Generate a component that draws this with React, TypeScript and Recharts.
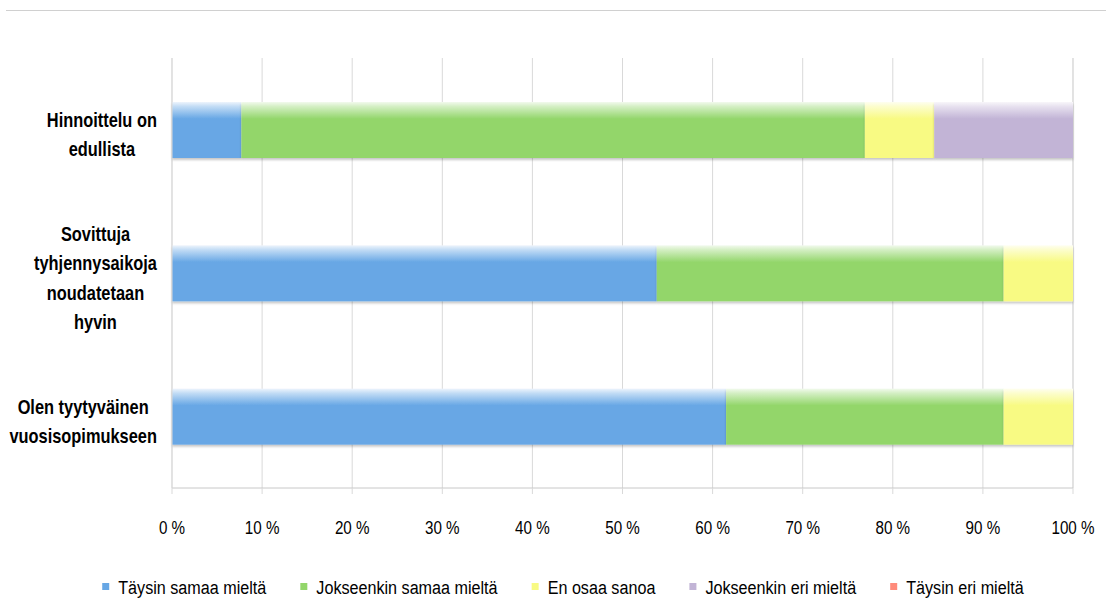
import React from 'react';
import { BarChart, Bar, XAxis, YAxis, CartesianGrid, Legend } from 'recharts';

const categories = [
  'Hinnoittelu on edullista',
  'Sovittuja tyhjennysaikoja noudatetaan hyvin',
  'Olen tyytyväinen vuosisopimukseen',
];
const categoryLines = [
  ['Hinnoittelu on', 'edullista'],
  ['Sovittuja', 'tyhjennysaikoja', 'noudatetaan', 'hyvin'],
  ['Olen tyytyväinen', 'vuosisopimukseen'],
];
const taysinSamaa = [7.7, 53.8, 61.5];
const jokseenkinSamaa = [69.2, 38.5, 30.8];
const enOsaaSanoa = [7.7, 7.7, 7.7];
const jokseenkinEri = [15.4, 0, 0];
const taysinEri = [0, 0, 0];

const seriesNames = [
  'Täysin samaa mieltä',
  'Jokseenkin samaa mieltä',
  'En osaa sanoa',
  'Jokseenkin eri mieltä',
  'Täysin eri mieltä',
];
const seriesKeys = ['s1', 's2', 's3', 's4', 's5'];
const seriesColors = ['#67A7E5', '#93D66B', '#F8FA83', '#C2B4D6', '#FF8B7B'];
const xTicks = [0, 10, 20, 30, 40, 50, 60, 70, 80, 90, 100];

const data = categories.map((name, i) => ({
  name,
  s1: taysinSamaa[i],
  s2: jokseenkinSamaa[i],
  s3: enOsaaSanoa[i],
  s4: jokseenkinEri[i],
  s5: taysinEri[i],
}));

const W = 1106;
const H = 606;

let ctx: CanvasRenderingContext2D | null = null;
function measure(text: string, font: string): number {
  if (!ctx) ctx = document.createElement('canvas').getContext('2d');
  if (!ctx) return text.length * 10;
  ctx.font = font;
  return ctx.measureText(text).width;
}

function mix(hex: string, t: number): string {
  const n = parseInt(hex.slice(1), 16);
  const r = (n >> 16) & 255, g = (n >> 8) & 255, b = n & 255;
  const m = (c: number) => Math.round(255 + (c - 255) * t);
  return `rgb(${m(r)},${m(g)},${m(b)})`;
}

const FONT = "'Liberation Sans', Arial, sans-serif";

const YTick = (props: any) => {
  const { x, y, payload } = props;
  const idx = categories.indexOf(payload.value);
  const lines = categoryLines[idx] || [String(payload.value)];
  const sx = 0.82;
  const font = `bold 20px 'Liberation Sans'`;
  const widths = lines.map((l) => measure(l, font) * sx);
  const bw = Math.max(...widths);
  const cx = x - bw / 2;
  const lh = 29.5;
  const c0 = y + 5 - ((lines.length - 1) * lh) / 2;
  return (
    <g>
      {lines.map((l, i) => (
        <text
          key={i}
          transform={`translate(${cx},${c0 + i * lh + 7}) scale(${sx},1)`}
          textAnchor="middle"
          fontFamily={FONT}
          fontWeight="bold"
          fontSize={20}
          fill="#000"
        >
          {l}
        </text>
      ))}
    </g>
  );
};

const XTick = (props: any) => {
  const { x, y, payload } = props;
  return (
    <text
      transform={`translate(${x},${y + 38}) scale(0.8,1)`}
      textAnchor="middle"
      fontFamily={FONT}
      fontSize={19}
      fill="#000"
    >
      {`${payload.value} %`}
    </text>
  );
};

const LegendContent = () => {
  const fs = 19;
  const sx = 0.85;
  const font = `${fs}px 'Liberation Sans'`;
  const marker = 7;
  const mgap = 9;
  const gap = 34;
  const widths = seriesNames.map((n) => measure(n, font) * sx);
  const itemW = widths.map((w) => marker + mgap + w);
  const total = itemW.reduce((a, b) => a + b, 0) + gap * (seriesNames.length - 1);
  let cur = W / 2 + 10 - total / 2;
  const cy = 39;
  return (
    <svg width={W} height={58} style={{ display: 'block' }}>
      {seriesNames.map((n, i) => {
        const x0 = cur;
        cur += itemW[i] + gap;
        return (
          <g key={n}>
            <rect x={x0} y={cy - 4} width={marker} height={marker} fill={seriesColors[i]} />
            <text
              transform={`translate(${x0 + marker + mgap},${cy + 6.5}) scale(${sx},1)`}
              fontFamily={FONT}
              fontSize={fs}
              fill="#000"
            >
              {n}
            </text>
          </g>
        );
      })}
    </svg>
  );
};

const makeShape = (i: number) => (props: any) => {
  const { x, y, width, height } = props;
  if (!width || width <= 0) return <g />;
  return (
    <rect x={x} y={y} width={width} height={height} fill={`url(#grad${i})`} filter="url(#barShadow)" />
  );
};

export default function App() {
  return (
    <div style={{ position: 'absolute', left: 0, top: 0, width: W, height: H, background: '#fff' }}>
      <div style={{ position: 'absolute', left: 6, right: 0, top: 10, height: 1, background: '#d0d0d0' }} />
      <BarChart
        width={W}
        height={H}
        data={data}
        layout="vertical"
        margin={{ top: 58, right: 33, left: 0, bottom: 0 }}
      >
        <defs>
          {seriesColors.map((c, i) => (
            <linearGradient key={i} id={`grad${i}`} x1="0" y1="0" x2="0" y2="1">
              <stop offset="0" stopColor={mix(c, 0.12)} />
              <stop offset="0.08" stopColor={mix(c, 0.4)} />
              <stop offset="0.3" stopColor={c} />
              <stop offset="1" stopColor={c} />
            </linearGradient>
          ))}
          <filter id="barShadow" x="-5%" y="-20%" width="110%" height="150%">
            <feDropShadow dx="0" dy="2" stdDeviation="1" floodColor="#000" floodOpacity="0.22" />
          </filter>
        </defs>
        <CartesianGrid horizontal={false} stroke="#d9d9d9" />
        <XAxis
          type="number"
          domain={[0, 100]}
          ticks={xTicks}
          interval={0}
          height={60}
          axisLine={{ stroke: '#c8c8c8' }}
          tickLine={{ stroke: '#d9d9d9' }}
          tickSize={6}
          tick={<XTick />}
        />
        <YAxis
          type="category"
          dataKey="name"
          width={172}
          axisLine={{ stroke: '#d9d9d9' }}
          tickLine={false}
          tickSize={0}
          tickMargin={15}
          tick={<YTick />}
        />
        <Legend
          verticalAlign="bottom"
          height={58}
          content={<LegendContent />}
          wrapperStyle={{ left: 0, bottom: 0, width: W, height: 58 }}
        />
        {seriesKeys.map((k, i) => (
          <Bar
            key={k}
            dataKey={k}
            name={seriesNames[i]}
            stackId="a"
            fill={seriesColors[i]}
            barSize={56}
            isAnimationActive={false}
            shape={makeShape(i)}
          />
        ))}
      </BarChart>
    </div>
  );
}
